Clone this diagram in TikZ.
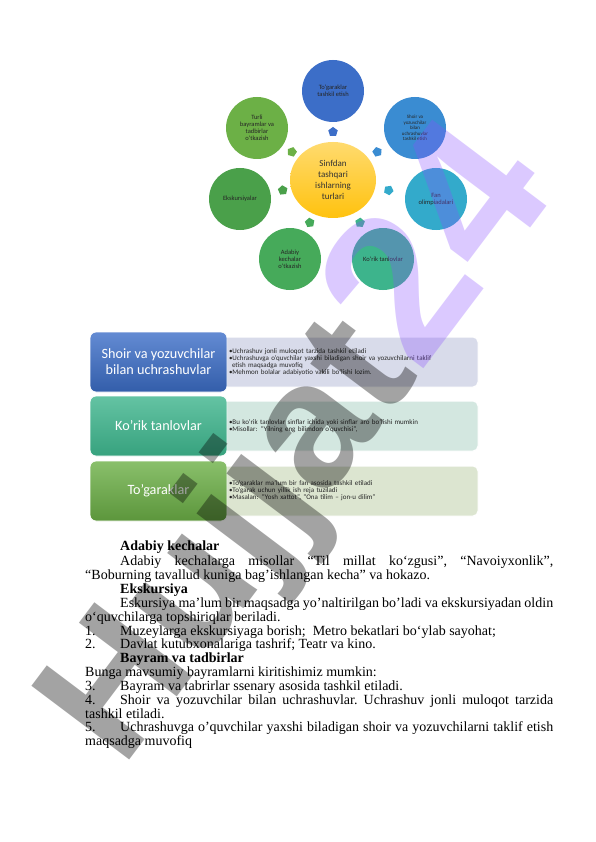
\documentclass[tikz,border=0pt]{standalone}
\usepackage{fontspec}
\setmainfont{Liberation Serif}
\setsansfont{Carlito}
\newfontfamily\wmfont{Liberation Sans}
\usepackage{tikz}
\usetikzlibrary{calc, positioning, shapes.geometric}

\definecolor{hubyellow}{HTML}{FFC20E}
\definecolor{cTop}{HTML}{3C6EC8}
\definecolor{cUR}{HTML}{3A8CD2}
\definecolor{cRt}{HTML}{33AACB}
\definecolor{cLR}{HTML}{3DB48C}
\definecolor{cLL}{HTML}{46AA5A}
\definecolor{cLt}{HTML}{4AA04A}
\definecolor{cUL}{HTML}{6CB046}
\definecolor{nBlue}{HTML}{D8DBEA}
\definecolor{nTeal}{HTML}{D3E7E0}
\definecolor{nGreen}{HTML}{DCE5D0}
\definecolor{wmPurple}{HTML}{8A4FFF}

\tikzset{
  sat/.style={circle, minimum size=62pt, inner sep=1pt, align=center, text=black!85,
    font=\sffamily\fontsize{6.5}{7}\selectfont},
  wedge/.style={regular polygon, regular polygon sides=5, minimum size=10pt, inner sep=0pt},
  headbox/.style={rounded corners=6pt, draw=white, line width=0.8pt, minimum width=137pt,
    minimum height=60pt, text=white, align=center, font=\sffamily\fontsize{14.2}{16}\selectfont},
  notebox/.style={rounded corners=5pt, draw=white, line width=1pt, minimum width=258pt,
    minimum height=50pt, text width=240pt, inner xsep=9pt, align=left, text=black!85,
    font=\sffamily\fontsize{7}{7}\selectfont},
  wmark/.style={rotate=53, anchor=base west, inner sep=0pt}
}

\begin{document}
\begin{tikzpicture}[x=1pt, y=-1pt]
  % Page
  \fill[white] (0,0) rectangle (596,842);
  \useasboundingbox (0,0) rectangle (596,842);

  % Hub and satellites
  \node[ellipse, minimum width=86pt, minimum height=76pt, inner sep=0pt, top color=hubyellow!60!white,
    bottom color=hubyellow, align=center, text=black!80, font=\sffamily\fontsize{9}{11}\selectfont]
    (hub) at (333,180) {Sinfdan\\tashqari\\ishlarning\\turlari};
  \node[sat, fill=cTop] (top) at (333,91) {To‘garaklar\\tashkil etish};
  \node[sat, fill=cUR, font=\sffamily\fontsize{5}{5.5}\selectfont] (ur) at (415,128)
    {Shoir va\\yozuvchilar\\bilan\\uchrashuvlar\\tashkil etish};
  \node[sat, fill=cRt] (rt) at (436,199) {Fan\\olimpiadalari};
  \node[sat, fill=cLR] (lr) at (383,259) {Ko‘rik tanlovlar};
  \node[sat, fill=cLL] (ll) at (290,259) {Adabiy\\kechalar\\o‘tkazish};
  \node[sat, fill=cLt] (lt) at (240,199) {Ekskursiyalar};
  \node[sat, fill=cUL] (ul) at (257,128) {Turli\\bayramlar va\\tadbirlar\\o‘tkazish};

  % Arrows from hub
  \foreach \sat/\col/\rot in {top/cTop/0, ur/cUR/-58, rt/cRt/-100, lr/cLR/-148,
      ll/cLL/151, lt/cLt/78, ul/cUL/56}
    \node[wedge, fill=\col, rotate=\rot] at ($(hub)!0.54!(\sat)$) {};

  % List rows
  \node[notebox, fill=nBlue] (n1) at (349,362)
    {•Uchrashuv jonli muloqot tarzida tashkil etiladi\\
     •Uchrashuvga o’quvchilar yaxshi biladigan shoir va yozuvchilarni taklif\\
     \hspace*{3pt}etish maqsadga muvofiq\\
     •Mehmon bolalar adabiyotio vakili bo’lishi lozim.};
  \node[notebox, fill=nTeal] (n2) at (349,426)
    {•Bu ko’rik tanlovlar sinflar ichida yoki sinflar aro bo’lishi mumkin\\
     •Misollar: “Yilning eng bilimdon o’quvchisi”,};
  \node[notebox, fill=nGreen] (n3) at (349,491)
    {•To’garaklar ma’lum bir fan asosida tashkil etiladi\\
     •To’garak uchun yillik ish reja tuziladi\\
     •Masalan: “Yosh xattot”, “Ona tilim – jon-u dilim”};
  \node[headbox, top color=cTop!80!white, bottom color=cTop!85!black] (h1) at (158.5,362)
    {Shoir va yozuvchilar\\bilan uchrashuvlar};
  \node[headbox, top color=cLR!80!white, bottom color=cLR!90!black] (h2) at (158.5,426)
    {Ko’rik tanlovlar};
  \node[headbox, top color=cUL!80!white, bottom color=cUL!85!black] (h3) at (158.5,491)
    {To’garaklar};

  % Body text
  \node[anchor=north west, inner sep=0pt, text width=468pt, align=justify,
    font=\fontsize{14}{13.85}\selectfont] (body) at (85,541) {\parindent=0pt\frenchspacing
    \strut\hspace*{35pt}\textbf{Adabiy kechalar}\par
    \hspace*{35pt}Adabiy kechalarga misollar “Til millat ko‘zgusi”, “Navoiyxonlik”,\linebreak
    “Boburning tavallud kuniga bag’ishlangan kecha” va hokazo.\par
    \hspace*{35pt}\textbf{Ekskursiya}\par
    \hspace*{35pt}Eskursiya ma’lum bir maqsadga yo’naltirilgan bo’ladi va ekskursiyadan oldin\linebreak
    o‘quvchilarga topshiriqlar beriladi.\par
    \makebox[35pt][l]{1.}Muzeylarga ekskursiyaga borish;\ \ Metro bekatlari bo‘ylab sayohat;\par
    \makebox[35pt][l]{2.}Davlat kutubxonalariga tashrif; Teatr va kino.\par
    \hspace*{35pt}\textbf{Bayram va tadbirlar}\par
    Bunga mavsumiy bayramlarni kiritishimiz mumkin:\par
    \makebox[35pt][l]{3.}Bayram va tabrirlar ssenary asosida tashkil etiladi.\par
    \makebox[35pt][l]{4.}Shoir va yozuvchilar bilan uchrashuvlar. Uchrashuv jonli muloqot tarzida\linebreak
    tashkil etiladi.\par
    \makebox[35pt][l]{5.}Uchrashuvga o’quvchilar yaxshi biladigan shoir va yozuvchilarni taklif etish\linebreak
    maqsadga muvofiq\par};

  % Watermark
  \node[wmark, text=black, text opacity=0.36, font=\wmfont\bfseries\fontsize{178}{178}\selectfont]
    (wm) at (122,770) {Hujjat};
  \node[wmark, text=wmPurple, text opacity=0.3, font=\wmfont\bfseries\fontsize{208}{208}\selectfont]
    (wm24) at (wm.base east) {24};
\end{tikzpicture}
\end{document}
